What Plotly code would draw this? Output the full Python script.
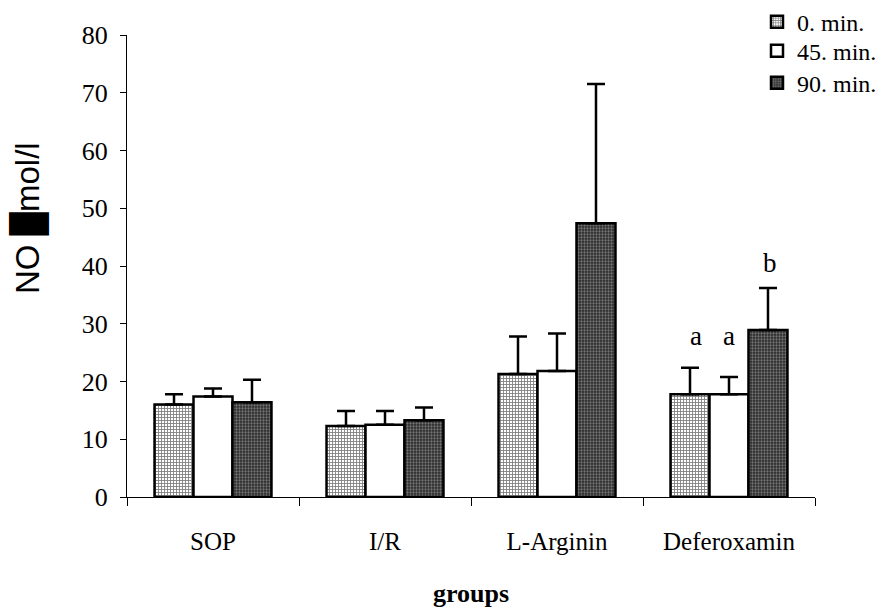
import plotly.graph_objects as go

groups = ["SOP", "I/R", "L-Arginin", "Deferoxamin"]
series_names = ["0. min.", "45. min.", "90. min."]
means = {
    "0. min.": [16.0, 12.3, 21.3, 17.8],
    "45. min.": [17.4, 12.5, 21.8, 17.8],
    "90. min.": [16.4, 13.3, 47.4, 28.9],
}
err_up = {
    "0. min.": [1.8, 2.6, 6.5, 4.6],
    "45. min.": [1.4, 2.4, 6.5, 3.0],
    "90. min.": [3.9, 2.2, 24.1, 7.3],
}
sig_labels = ["a", "a", "b"]  # Deferoxamin group
sig_y = [27.8, 27.8, 40.5]
y_ticks = [0, 10, 20, 30, 40, 50, 60, 70, 80]

patterns = {
    "0. min.": dict(shape="+", fgcolor="black", bgcolor="white", size=3, solidity=0.5),
    "45. min.": dict(shape="", fgcolor="black", bgcolor="white"),
    "90. min.": dict(shape=".", fgcolor="#c0c0c0", bgcolor="#2a2a2a", size=3, solidity=0.45),
}
legend_ids = ["legend", "legend2", "legend3"]
legend_y = [1.028, 0.965, 0.896]

fig = go.Figure()
for i, name in enumerate(series_names):
    fig.add_trace(go.Bar(
        x=groups, y=means[name], name=name,
        legend=legend_ids[i],
        marker=dict(color="white", line=dict(color="black", width=2.5),
                    pattern=patterns[name]),
        error_y=dict(type="data", symmetric=False, array=err_up[name],
                     arrayminus=[0] * 4, color="black", thickness=2.5, width=9),
    ))

offsets = [-33, 0, 41]
for k, (lab, yy) in enumerate(zip(sig_labels, sig_y)):
    fig.add_annotation(x="Deferoxamin", y=yy, text=lab, showarrow=False,
                       xshift=offsets[k],
                       font=dict(family="Liberation Serif", size=27, color="black"))

# y-axis title (positioned as in the reference)
fig.add_annotation(xref="paper", yref="paper", x=-0.175, y=0.604,
                   text="NO █mol/l", textangle=-90, showarrow=False,
                   font=dict(family="Liberation Sans", size=33, color="black"))

legend_common = dict(x=0.9157, xanchor="left", yanchor="middle",
                     font=dict(family="Liberation Serif", size=24, color="black"),
                     bgcolor="rgba(0,0,0,0)", itemwidth=30)

fig.update_layout(
    width=871, height=600,
    margin=dict(l=119, r=64, t=27, b=111, autoexpand=False),
    plot_bgcolor="white", paper_bgcolor="white",
    barmode="group", bargap=0.32, bargroupgap=0,
    font=dict(family="Liberation Serif", size=25, color="black"),
    showlegend=True,
    legend=dict(y=legend_y[0], **legend_common),
    legend2=dict(y=legend_y[1], **legend_common),
    legend3=dict(y=legend_y[2], **legend_common),
    xaxis=dict(
        type="category", range=[-0.5, 3.5], showline=True, linecolor="black",
        linewidth=1, ticks="outside", tickson="boundaries", ticklen=8,
        tickcolor="black", ticklabelstandoff=22,
        tickfont=dict(family="Liberation Serif", size=25),
        title=dict(text="<b>groups</b>", standoff=38,
                   font=dict(family="Liberation Serif", size=26)),
        showgrid=False,
    ),
    yaxis=dict(
        range=[0, 80], tickvals=y_ticks, showline=True, linecolor="black",
        linewidth=1, ticks="outside", ticklen=6, tickcolor="black",
        tickfont=dict(family="Liberation Serif", size=26), showgrid=False,
        zeroline=False, ticklabelstandoff=7,
    ),
)

fig.write_html("out.html")
